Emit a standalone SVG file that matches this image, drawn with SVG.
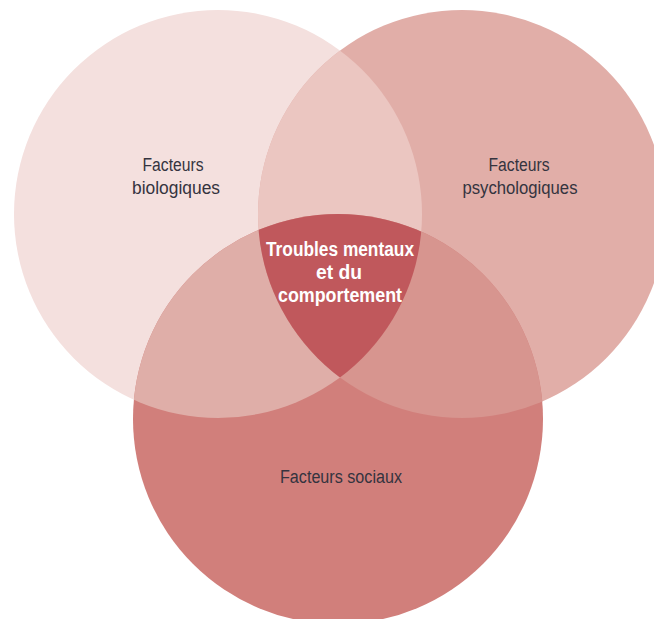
<svg xmlns="http://www.w3.org/2000/svg" width="654" height="619" viewBox="0 0 654 619">
  <style>
    .lbl { font-family: "Liberation Sans", Arial, sans-serif; font-size: 18px; fill: #34343f; text-anchor: middle; }
    .core { font-family: "Liberation Sans", Arial, sans-serif; font-size: 20px; font-weight: bold; fill: #ffffff; text-anchor: middle; }
  </style>
  <defs>
    <circle id="cBio" cx="218" cy="214" r="204"/>
    <circle id="cPsy" cx="462" cy="214" r="204"/>
    <circle id="cSoc" cx="338" cy="419" r="205"/>
    <clipPath id="clipBio"><use href="#cBio"/></clipPath>
    <clipPath id="clipPsy"><use href="#cPsy"/></clipPath>
    <clipPath id="clipSoc"><use href="#cSoc"/></clipPath>
  </defs>
  <rect width="654" height="619" fill="#ffffff"/>

  <!-- base circles -->
  <g id="bio"><use href="#cBio" fill="#f4e0de"/></g>
  <g id="psy"><use href="#cPsy" fill="#e1aea8"/></g>
  <g id="soc"><use href="#cSoc" fill="#d17f7b"/></g>

  <!-- pairwise overlaps -->
  <g id="overlaps">
    <g clip-path="url(#clipBio)"><use href="#cPsy" fill="#ebc6c1"/></g>
    <g clip-path="url(#clipBio)"><use href="#cSoc" fill="#dfaea8"/></g>
    <g clip-path="url(#clipPsy)"><use href="#cSoc" fill="#d7958f"/></g>
  </g>

  <!-- triple overlap -->
  <g id="center">
    <g clip-path="url(#clipBio)"><g clip-path="url(#clipPsy)"><use href="#cSoc" fill="#c0585c"/></g></g>
  </g>

  <!-- labels (condensed to fit the narrow typeface widths) -->
  <g id="labels">
    <text class="lbl" x="173" y="171" textLength="61" lengthAdjust="spacingAndGlyphs">Facteurs</text>
    <text class="lbl" x="176" y="194" textLength="88" lengthAdjust="spacingAndGlyphs">biologiques</text>
    <text class="lbl" x="519" y="171" textLength="61" lengthAdjust="spacingAndGlyphs">Facteurs</text>
    <text class="lbl" x="520" y="194" textLength="115" lengthAdjust="spacingAndGlyphs">psychologiques</text>
    <text class="lbl" x="341" y="483" textLength="122" lengthAdjust="spacingAndGlyphs">Facteurs sociaux</text>
    <text class="core" x="340" y="256" textLength="148" lengthAdjust="spacingAndGlyphs">Troubles mentaux</text>
    <text class="core" x="339" y="279" textLength="46" lengthAdjust="spacingAndGlyphs">et du</text>
    <text class="core" x="340" y="302" textLength="124" lengthAdjust="spacingAndGlyphs">comportement</text>
  </g>
</svg>
